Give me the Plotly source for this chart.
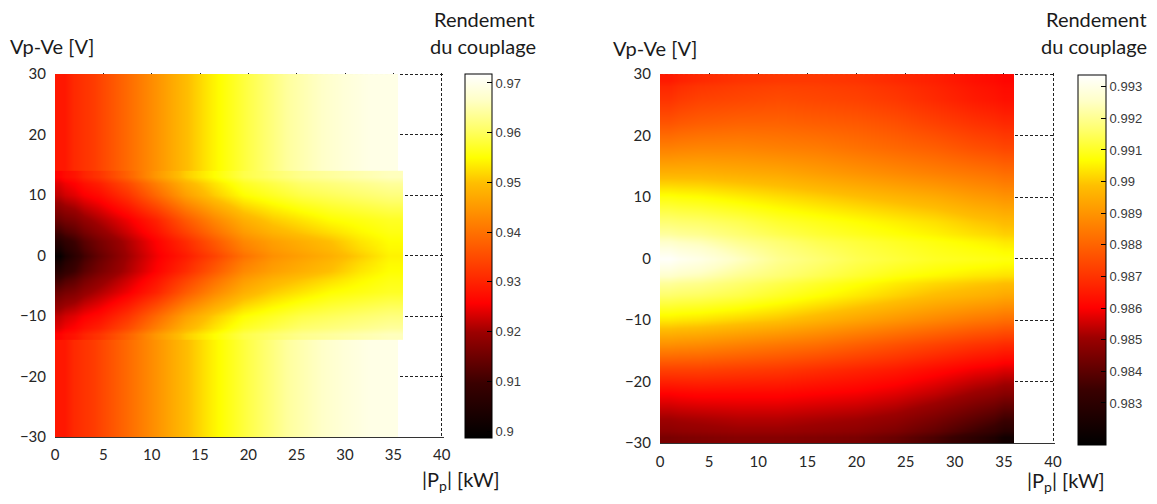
import plotly.graph_objects as go

# ---------------- data: left chart (efficiency vs |Pp| and Vp-Ve) ----------------
L_outer_x_edges = [0, 2, 6, 10, 14, 18, 22, 26, 30, 35.5]
L_outer_y_edges = [-30, 0, 30]
L_outer_eff = [0.9285, 0.933, 0.940, 0.947, 0.9535, 0.959, 0.964, 0.967, 0.9695]

L_band_x_edges = [0, 1, 3, 6, 9, 12, 15, 18, 21, 24, 27, 30, 33, 36]
L_band_y_edges = [-14, -12, -8, -4, -1, 1, 4, 8, 12, 14]
L_row_y0 = [0.900, 0.907, 0.914, 0.920, 0.925, 0.929, 0.934, 0.940, 0.944, 0.946, 0.948, 0.951, 0.954]
L_row_y2 = [0.906, 0.910, 0.916, 0.921, 0.926, 0.931, 0.937, 0.943, 0.946, 0.948, 0.950, 0.953, 0.955]
L_row_y6 = [0.915, 0.917, 0.921, 0.925, 0.930, 0.937, 0.943, 0.948, 0.951, 0.953, 0.955, 0.956, 0.957]
L_row_y10 = [0.922, 0.924, 0.927, 0.932, 0.939, 0.946, 0.951, 0.955, 0.957, 0.959, 0.960, 0.961, 0.962]
L_row_y13 = [0.926, 0.928, 0.932, 0.938, 0.945, 0.951, 0.955, 0.959, 0.961, 0.963, 0.964, 0.965, 0.966]
L_band_z = [L_row_y13, L_row_y10, L_row_y6, L_row_y2, L_row_y0,
            L_row_y2, L_row_y6, L_row_y10, L_row_y13]

L_cmin, L_cmax = 0.8986, 0.9718
L_cbar_ticks = [0.90, 0.91, 0.92, 0.93, 0.94, 0.95, 0.96, 0.97]
L_cbar_text = ["0.9", "0.91", "0.92", "0.93", "0.94", "0.95", "0.96", "0.97"]

# ---------------- data: right chart ----------------
R_x_edges = [0, 2, 6, 10, 14, 18, 22, 26, 30, 34, 36]
R_y_edges = [-30, -28, -24, -20, -16, -12, -8, -4, -1.5, 1.5, 4, 8, 12, 16, 20, 24, 28, 30]
R_eff = [
    [0.9845, 0.9846, 0.9847, 0.9847, 0.9846, 0.9845, 0.9842, 0.9837, 0.9830, 0.9822],  # y=-29
    [0.9851, 0.9852, 0.9853, 0.9853, 0.9852, 0.9851, 0.9849, 0.9845, 0.9840, 0.9835],  # y=-26
    [0.9860, 0.9861, 0.9861, 0.9861, 0.9860, 0.9859, 0.9857, 0.9854, 0.9850, 0.9847],  # y=-22
    [0.9873, 0.9873, 0.9872, 0.9871, 0.9869, 0.9867, 0.9865, 0.9862, 0.9859, 0.9857],  # y=-18
    [0.9889, 0.9888, 0.9886, 0.9884, 0.9882, 0.9879, 0.9876, 0.9873, 0.9870, 0.9868],  # y=-14
    [0.9904, 0.9903, 0.9901, 0.9899, 0.9896, 0.9893, 0.9890, 0.9887, 0.9884, 0.9882],  # y=-10
    [0.9916, 0.9915, 0.9913, 0.9910, 0.9907, 0.9904, 0.9901, 0.9898, 0.9896, 0.9894],  # y=-6
    [0.9926, 0.9924, 0.9920, 0.9917, 0.9914, 0.9911, 0.9908, 0.9906, 0.9904, 0.9903],  # y=-2.75
    [0.9933, 0.9930, 0.9925, 0.9920, 0.9917, 0.9914, 0.9912, 0.9910, 0.9909, 0.9908],  # y=0
    [0.9926, 0.9924, 0.9920, 0.9917, 0.9914, 0.9912, 0.9910, 0.9908, 0.9906, 0.9904],  # y=2.75
    [0.9917, 0.9916, 0.9914, 0.9911, 0.9909, 0.9907, 0.9905, 0.9903, 0.9900, 0.9898],  # y=6
    [0.9908, 0.9907, 0.9905, 0.9903, 0.9901, 0.9899, 0.9897, 0.9895, 0.9892, 0.9890],  # y=10
    [0.9896, 0.9896, 0.9895, 0.9894, 0.9892, 0.9890, 0.9888, 0.9886, 0.9884, 0.9882],  # y=14
    [0.9886, 0.9887, 0.9887, 0.9886, 0.9885, 0.9883, 0.9881, 0.9879, 0.9876, 0.9874],  # y=18
    [0.9877, 0.9879, 0.9880, 0.9880, 0.9879, 0.9878, 0.9876, 0.9873, 0.9870, 0.9868],  # y=22
    [0.9870, 0.9873, 0.9874, 0.9875, 0.9874, 0.9873, 0.9871, 0.9868, 0.9865, 0.9863],  # y=26
    [0.9865, 0.9868, 0.9870, 0.9871, 0.9871, 0.9870, 0.9868, 0.9866, 0.9863, 0.9861],  # y=29
]
R_cmin, R_cmax = 0.98167, 0.99337
R_cbar_ticks = [0.983, 0.984, 0.985, 0.986, 0.987, 0.988, 0.989, 0.990, 0.991, 0.992, 0.993]
R_cbar_text = ["0.983", "0.984", "0.985", "0.986", "0.987", "0.988", "0.989", "0.99", "0.991", "0.992", "0.993"]

x_ticks = [0, 5, 10, 15, 20, 25, 30, 35, 40]
y_ticks = [-30, -20, -10, 0, 10, 20, 30]

hot_scale = [
    [0.0, "#000000"], [0.15, "#3a0000"], [0.29, "#9c0000"], [0.37, "#ff0000"],
    [0.45, "#ff3000"], [0.57, "#ff7400"], [0.70, "#ffbe00"], [0.77, "#ffff00"],
    [0.85, "#ffff6a"], [0.93, "#ffffc8"], [1.0, "#ffffff"],
]

# page is 1157x504; the browser body adds an 8 px margin on every side
PAGE_W, PAGE_H, BODY = 1157, 504, 8
W, H = PAGE_W - 2 * BODY, PAGE_H - 2 * BODY


def px_x(p):
    return (p - BODY) / W


def px_y(p):
    return 1 - (p - BODY) / H


TXT = "Lato"
TICKFONT = dict(family=TXT, size=15, color="#262626")
CBFONT = dict(family="Liberation Sans", size=13, color="#3a3a3a")

fig = go.Figure()

fig.add_trace(go.Heatmap(x=L_outer_x_edges, y=L_outer_y_edges, z=[L_outer_eff, L_outer_eff],
                         zsmooth="best", coloraxis="coloraxis", xaxis="x", yaxis="y",
                         hoverinfo="skip"))
fig.add_trace(go.Heatmap(x=L_band_x_edges, y=L_band_y_edges, z=L_band_z,
                         zsmooth="best", coloraxis="coloraxis", xaxis="x", yaxis="y",
                         hoverinfo="skip"))
fig.add_trace(go.Heatmap(x=R_x_edges, y=R_y_edges, z=R_eff,
                         zsmooth="best", coloraxis="coloraxis2", xaxis="x2", yaxis="y2",
                         hoverinfo="skip"))

# ranges a little past 30 / 40 so that the dashed grid lines at 30 and 40 are drawn
X_RANGE = [0, 40.2]
Y_RANGE = [-30, 30.25]

common_x = dict(range=X_RANGE, tickvals=x_ticks, ticks="", showgrid=True, gridcolor="#222222",
                griddash="3px,2px", gridwidth=1, zeroline=False, showline=True, linecolor="#333333",
                linewidth=1, tickfont=TICKFONT, fixedrange=True, automargin=False)
common_y = dict(range=Y_RANGE, tickvals=y_ticks, ticks="", showgrid=True, gridcolor="#222222",
                griddash="3px,2px", gridwidth=1, zeroline=False, showline=False,
                tickfont=TICKFONT, fixedrange=True, ticklabelstandoff=8, automargin=False)

cb_common = dict(outlinewidth=1, outlinecolor="#000000", ticks="inside", ticklen=5,
                 tickcolor="#000000", tickfont=CBFONT, xanchor="left", xpad=0,
                 yanchor="top", ypad=0, lenmode="fraction", tickmode="array")

fig.update_layout(
    width=W, height=H, autosize=False,
    margin=dict(l=0, r=0, t=0, b=0, pad=0, autoexpand=False),
    paper_bgcolor="white", plot_bgcolor="white",
    xaxis=dict(domain=[px_x(55), px_x(443.6)], anchor="y", ticklabelstandoff=4, **common_x),
    yaxis=dict(domain=[px_y(437), px_y(72.5)], anchor="x", **common_y),
    xaxis2=dict(domain=[px_x(660), px_x(1055)], anchor="y2", ticklabelstandoff=5, **common_x),
    yaxis2=dict(domain=[px_y(443), px_y(72.5)], anchor="x2", **common_y),
    coloraxis=dict(colorscale=hot_scale, cmin=L_cmin, cmax=L_cmax,
                   colorbar=dict(x=px_x(465), y=px_y(74), len=(438 - 74) / H, thickness=27,
                                 tickvals=L_cbar_ticks, ticktext=L_cbar_text, **cb_common)),
    coloraxis2=dict(colorscale=hot_scale, cmin=R_cmin, cmax=R_cmax,
                    colorbar=dict(x=px_x(1078), y=px_y(75), len=(445 - 75) / H, thickness=28,
                                  tickvals=R_cbar_ticks, ticktext=R_cbar_text, **cb_common)),
    showlegend=False,
)

TFONT = dict(family=TXT, size=20, color="#1a1a1a")
annos = [
    ("Vp-Ve [V]", 8, 46, "left"),
    ("Rendement", 537, 19, "right"),
    ("du couplage", 538, 46, "right"),
    ("|P<sub>p</sub>| [kW]", 420, 480, "left"),
    ("Vp-Ve [V]", 611, 48, "left"),
    ("Rendement", 1149, 19, "right"),
    ("du couplage", 1149, 46, "right"),
    ("|P<sub>p</sub>| [kW]", 1025, 481, "left"),
]
for text, xp, yp, anc in annos:
    fig.add_annotation(text=text, x=px_x(xp), y=px_y(yp), xref="paper", yref="paper",
                       xanchor=anc, yanchor="middle", showarrow=False, font=TFONT)

fig.write_html("out.html")
